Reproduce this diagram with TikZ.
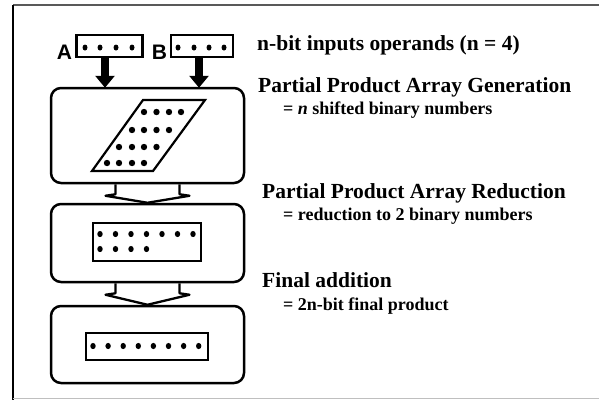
\documentclass[tikz,border=0pt]{standalone}
\usepackage{fontspec}
\setmainfont{Liberation Serif}
\newfontfamily\labfont{Liberation Sans}
\usetikzlibrary{calc,arrows.meta}
\begin{document}
\begin{tikzpicture}[x=1pt,y=-1pt,
  stage/.style={draw, line width=2.5pt, rounded corners=10pt, minimum width=193pt, inner sep=0pt},
  reg/.style={draw, line width=2.2pt, inner sep=0pt},
  head/.style={anchor=base west, inner sep=0pt, font=\fontsize{21.5}{22}\selectfont\bfseries},
  sub/.style={anchor=base west, inner sep=0pt, font=\fontsize{18}{19}\selectfont\bfseries},
  oplabel/.style={inner sep=0pt, font=\labfont\fontsize{21}{21}\selectfont\bfseries},
  chevron/.style={line width=2.3pt, line join=round},
  fatarrow/.style={line width=8pt, -{Triangle[length=12pt,width=19pt]}, shorten >=-1pt}]
\useasboundingbox (0,0) rectangle (599,400);
% frame
\draw[line width=2pt, black!65] (13,5) -- (599,5);
\draw[line width=1.5pt] (13,5) -- (13,400);
\draw[line width=0.8pt, black!25] (13,398) -- (599,398);

% operand registers
\node[reg, minimum width=66pt, minimum height=22pt] (regA) at (109.5,46) {};
\node[reg, minimum width=62pt, minimum height=22pt] (regB) at (202,46) {};
\node[oplabel] (labA) at (64.5,52.5) {A};
\node[oplabel] (labB) at (159.5,52.5) {B};
\foreach \x in {85,100,116,132} \fill (\x,47.5) ellipse (2.5pt and 3pt);
\foreach \x in {178,194,209,224} \fill (\x,47.5) ellipse (2.5pt and 3pt);

% stages
\node[stage, minimum height=95pt] (box1) at (147.5,135.5) {};
\node[stage, minimum height=78pt] (box2) at (147.5,243) {};
\node[stage, minimum height=77pt] (box3) at (147.5,344.5) {};

% fat arrows
\coordinate (aA) at ($(regA.south)+(-4.5,0)$);
\coordinate (aB) at ($(regB.south)+(-3,0)$);
\draw[fatarrow] (aA) -- (aA |- box1.north);
\draw[fatarrow] (aB) -- (aB |- box1.north);

% chevron connectors
\draw[chevron] ($(box1.south)+(-32,0)$) -- ++(0,10) -- ++(-10,1.5) -- (box2.north)
  -- ($(box1.south)+(42,11.5)$) -- ++(-10,-1.5) -- ++(0,-10);
\draw[chevron] ($(box2.south)+(-32,0)$) -- ++(0,10) -- ++(-10,1.5) -- (box3.north)
  -- ($(box2.south)+(42,11.5)$) -- ++(-10,-1.5) -- ++(0,-10);

% partial product parallelogram
\draw[line width=2.2pt, line join=miter] (92,171) -- (143,100) -- (205,100) -- (153,171) -- cycle;
\foreach \x in {144,156.5,169,181} \fill (\x,112) circle (3.2pt);
\foreach \x in {132,144,156.5,169} \fill (\x,130) circle (3.2pt);
\foreach \x in {119,132,144,156.5} \fill (\x,147) circle (3.2pt);
\foreach \x in {107,119,132,144} \fill (\x,163) circle (3.2pt);

% reduced array
\node[reg, minimum width=108pt, minimum height=38pt] (reg2) at (147,242) {};
\foreach \i in {0,...,6} \fill ({100+15.5*\i},234) ellipse (2.7pt and 3.1pt);
\foreach \i in {0,...,3} \fill ({100+15.5*\i},249) ellipse (2.7pt and 3.1pt);

% final product
\node[reg, minimum width=122pt, minimum height=27pt] (reg3) at (147,346.5) {};
\foreach \i in {0,...,7} \fill ({93+15.1*\i},346) ellipse (2.7pt and 3.1pt);

% texts
\node[head] (t0) at (257,50) {n-bit inputs operands (n = 4)};
\node[head] (t1) at (258,92) {Partial Product Array Generation};
\node[sub] (s1) at (283,114) {= \textit{n} shifted binary numbers};
\node[head] (t2) at (262,198) {Partial Product Array Reduction};
\node[sub] (s2) at (283,220) {= reduction to 2 binary numbers};
\node[head] (t3) at (262,287) {Final addition};
\node[sub] (s3) at (283,310) {= 2n-bit final product};
\end{tikzpicture}
\end{document}
